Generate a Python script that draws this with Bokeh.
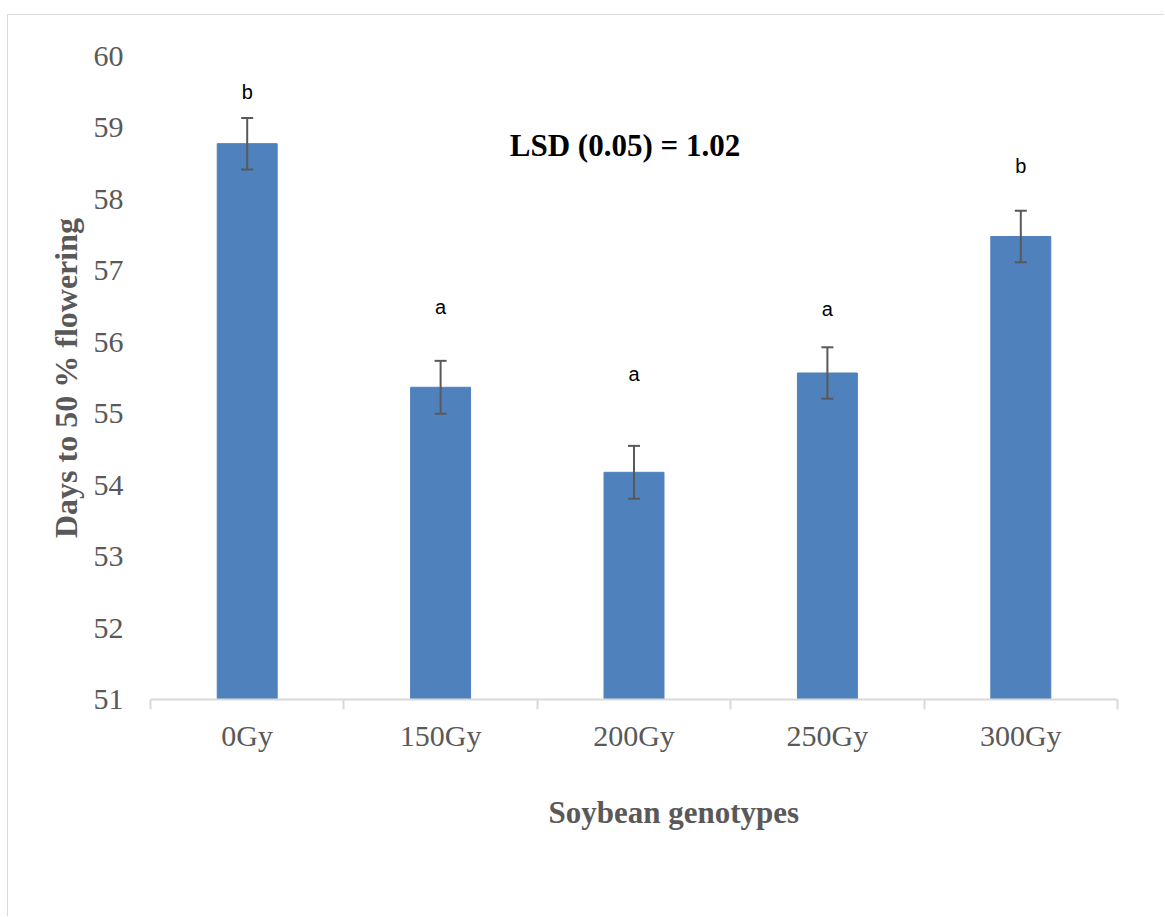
from bokeh.plotting import figure
from bokeh.models import (ColumnDataSource, Range1d, LinearAxis, CategoricalAxis,
                          FixedTicker, Whisker, TeeHead, Title)
from bokeh.core.properties import value
from bokeh.embed import file_html
from bokeh.resources import INLINE

# ---- data ----
categories = ["0Gy", "150Gy", "200Gy", "250Gy", "300Gy"]
days = [58.78, 55.37, 54.18, 55.57, 57.48]
errors = [0.36, 0.37, 0.37, 0.36, 0.36]
letters = ["b", "a", "a", "a", "b"]
letter_y = [59.5, 56.5, 55.55, 56.47, 58.47]
y_ticks = [51, 52, 53, 54, 55, 56, 57, 58, 59, 60]
lsd_text = "LSD (0.05) = 1.02"
x_title = "Soybean genotypes"
y_title = "Days to 50 % flowering"

SERIF = "Liberation Serif"
GRAY = "#595959"

src = ColumnDataSource(dict(
    x=categories, top=days,
    upper=[d + e for d, e in zip(days, errors)],
    lower=[d - e for d, e in zip(days, errors)],
    letter=letters, ly=letter_y,
))

p = figure(width=1157, height=902, x_range=categories, y_range=Range1d(51, 60),
           x_axis_location=None, output_backend="svg", toolbar_location=None,
           min_border_left=142, min_border_right=48, min_border_top=41,
           min_border_bottom=218)
p.styles = {"margin-left": "7px", "margin-top": "14px",
            "border-left": "1px solid #d9d9d9", "border-top": "1px solid #d9d9d9"}
p.outline_line_color = None
p.grid.visible = False
p.background_fill_color = "white"
p.border_fill_color = "white"

# y axis
ya = p.yaxis[0]
ya.ticker = FixedTicker(ticks=y_ticks)
ya.axis_line_color = None
ya.major_tick_line_color = None
ya.minor_tick_line_color = None
ya.major_label_standoff = 21
ya.major_label_text_font = SERIF
ya.major_label_text_font_size = "30px"
ya.major_label_text_color = GRAY
ya.axis_label = y_title
ya.axis_label_text_font = SERIF
ya.axis_label_text_font_style = "bold"
ya.axis_label_text_font_size = "32px"
ya.axis_label_text_color = GRAY
ya.axis_label_standoff = 7

# x axis: boundary ticks (category edges, synthetic coordinates) + category labels
edge_ticks = list(range(len(categories) + 1))
edge_axis = LinearAxis(ticker=FixedTicker(ticks=edge_ticks),
                       major_label_overrides={t: "" for t in edge_ticks},
                       major_label_text_font_size="0px", major_label_standoff=0,
                       axis_line_color="#d9d9d9", axis_line_width=2,
                       major_tick_line_color="#d9d9d9", major_tick_line_width=2,
                       major_tick_in=0, major_tick_out=10,
                       minor_tick_line_color=None)
p.add_layout(edge_axis, "below")

cat_axis = CategoricalAxis(axis_line_color=None, major_tick_line_color=None,
                           minor_tick_line_color=None,
                           major_label_standoff=3,
                           major_label_text_font=SERIF,
                           major_label_text_font_size="30px",
                           major_label_text_color=GRAY)
p.add_layout(cat_axis, "below")

# x axis title (slightly right of centre, as in the original)
p.add_layout(Title(text=x_title, align="left", offset=398, standoff=76,
                   text_font=SERIF, text_font_style="bold",
                   text_font_size="31px", text_color=GRAY), "below")

# bars
p.vbar(x="x", top="top", bottom=51, width=0.31, source=src,
       fill_color="#4f81bd", line_color="#4f81bd")

# error bars
p.add_layout(Whisker(source=src, base="x", upper="upper", lower="lower",
                     level="overlay",
                     line_color=GRAY, line_width=2,
                     upper_head=TeeHead(size=12, line_color=GRAY, line_width=2),
                     lower_head=TeeHead(size=12, line_color=GRAY, line_width=2)))

# significance letters
p.text(x="x", y="ly", text="letter", source=src, text_align="center",
       text_baseline="middle", text_font=value("Liberation Sans"),
       text_font_size="20px", text_color="black")

# LSD annotation
p.text(x=["200Gy"], y=[58.75], text=[lsd_text], x_offset=-9,
       text_align="center", text_baseline="middle",
       text_font=value(SERIF), text_font_style="bold",
       text_font_size="31px", text_color="black")

open("out.html", "w").write(file_html(p, INLINE))
